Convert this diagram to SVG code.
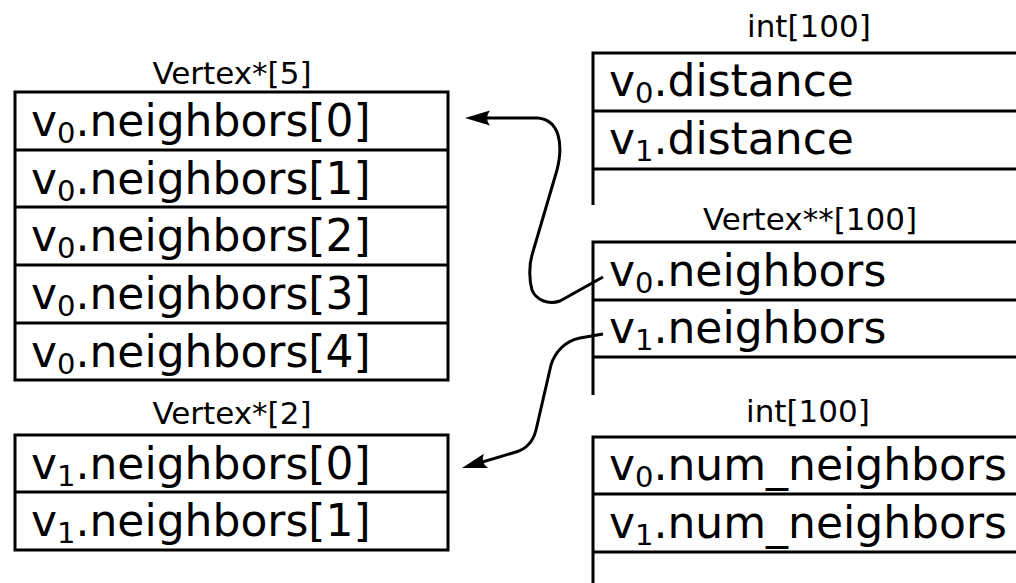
<svg xmlns="http://www.w3.org/2000/svg" width="1016" height="583" viewBox="0 0 1016 583">
  <style>
    .frame { fill: none; stroke: #000; stroke-width: 3; }
    .cell { font-family: "DejaVu Sans", "Liberation Sans", sans-serif; font-size: 44px; fill: #000; }
    .sub { font-size: 29px; }
    .title { font-family: "DejaVu Sans", "Liberation Sans", sans-serif; font-size: 31px; fill: #000; text-anchor: middle; }
    .link { fill: none; stroke: #000; stroke-width: 3; stroke-linejoin: round; }
  </style>
  <defs>
    <marker id="arrow" markerUnits="userSpaceOnUse" viewBox="-20 -10 34 20" markerWidth="34" markerHeight="20" refX="0" refY="0" orient="auto" overflow="visible">
      <path d="M10,0 L-15,-7.5 Q-9,0 -15,7.5 Z" fill="#000"/>
    </marker>
  </defs>
  <rect width="1016" height="583" fill="#fff"/>

  <!-- Vertex*[5] array -->
  <g id="v0-neighbors-array">
    <text class="title" x="232" y="84">Vertex*[5]</text>
    <rect class="frame" x="15" y="92" width="433" height="288"/>
    <path class="frame" d="M15,150 H448 M15,207 H448 M15,265 H448 M15,323 H448"/>
    <text class="cell" x="31" y="136">v<tspan class="sub" dy="7">0</tspan><tspan dy="-7">.neighbors[0]</tspan></text>
    <text class="cell" x="31" y="194">v<tspan class="sub" dy="7">0</tspan><tspan dy="-7">.neighbors[1]</tspan></text>
    <text class="cell" x="31" y="251">v<tspan class="sub" dy="7">0</tspan><tspan dy="-7">.neighbors[2]</tspan></text>
    <text class="cell" x="31" y="309">v<tspan class="sub" dy="7">0</tspan><tspan dy="-7">.neighbors[3]</tspan></text>
    <text class="cell" x="31" y="367">v<tspan class="sub" dy="7">0</tspan><tspan dy="-7">.neighbors[4]</tspan></text>
  </g>

  <!-- Vertex*[2] array -->
  <g id="v1-neighbors-array">
    <text class="title" x="232" y="424">Vertex*[2]</text>
    <rect class="frame" x="15" y="435" width="433" height="115"/>
    <path class="frame" d="M15,492 H448"/>
    <text class="cell" x="31" y="479">v<tspan class="sub" dy="7">1</tspan><tspan dy="-7">.neighbors[0]</tspan></text>
    <text class="cell" x="31" y="536">v<tspan class="sub" dy="7">1</tspan><tspan dy="-7">.neighbors[1]</tspan></text>
  </g>

  <!-- int[100] distances -->
  <g id="distance-array">
    <text class="title" x="809" y="37">int[100]</text>
    <path class="frame" d="M593,205 V53 H1016 M593,111 H1016 M593,169 H1016"/>
    <text class="cell" x="609" y="96">v<tspan class="sub" dy="7">0</tspan><tspan dy="-7">.distance</tspan></text>
    <text class="cell" x="609" y="154">v<tspan class="sub" dy="7">1</tspan><tspan dy="-7">.distance</tspan></text>
  </g>

  <!-- Vertex**[100] neighbor lists -->
  <g id="neighbors-array">
    <text class="title" x="810" y="230">Vertex**[100]</text>
    <path class="frame" d="M593,395 V242 H1016 M593,300 H1016 M593,357 H1016"/>
    <text class="cell" x="609" y="286">v<tspan class="sub" dy="7">0</tspan><tspan dy="-7">.neighbors</tspan></text>
    <text class="cell" x="609" y="343">v<tspan class="sub" dy="7">1</tspan><tspan dy="-7">.neighbors</tspan></text>
  </g>

  <!-- int[100] neighbor counts -->
  <g id="num-neighbors-array">
    <text class="title" x="808" y="422">int[100]</text>
    <path class="frame" d="M593,583 V437 H1016 M593,494 H1016 M593,552 H1016"/>
    <text class="cell" x="609" y="480">v<tspan class="sub" dy="7">0</tspan><tspan dy="-7">.num_neighbors</tspan></text>
    <text class="cell" x="609" y="538">v<tspan class="sub" dy="7">1</tspan><tspan dy="-7">.num_neighbors</tspan></text>
  </g>

  <!-- pointers -->
  <g id="connectors">
    <path class="link" marker-end="url(#arrow)" d="M603,277 L560,301 C548,305 536,300 532,290 C529,280 529,265 532,255 L557,170 C560,158 561,145 558,135 C555,125 548,119 538,118 L475,118"/>
    <path class="link" marker-end="url(#arrow)" d="M603,334 L580,338 C565,341 555,352 551,365 L536,430 C533,442 526,449 516,452 L471.6,465.2"/>
  </g>
</svg>
